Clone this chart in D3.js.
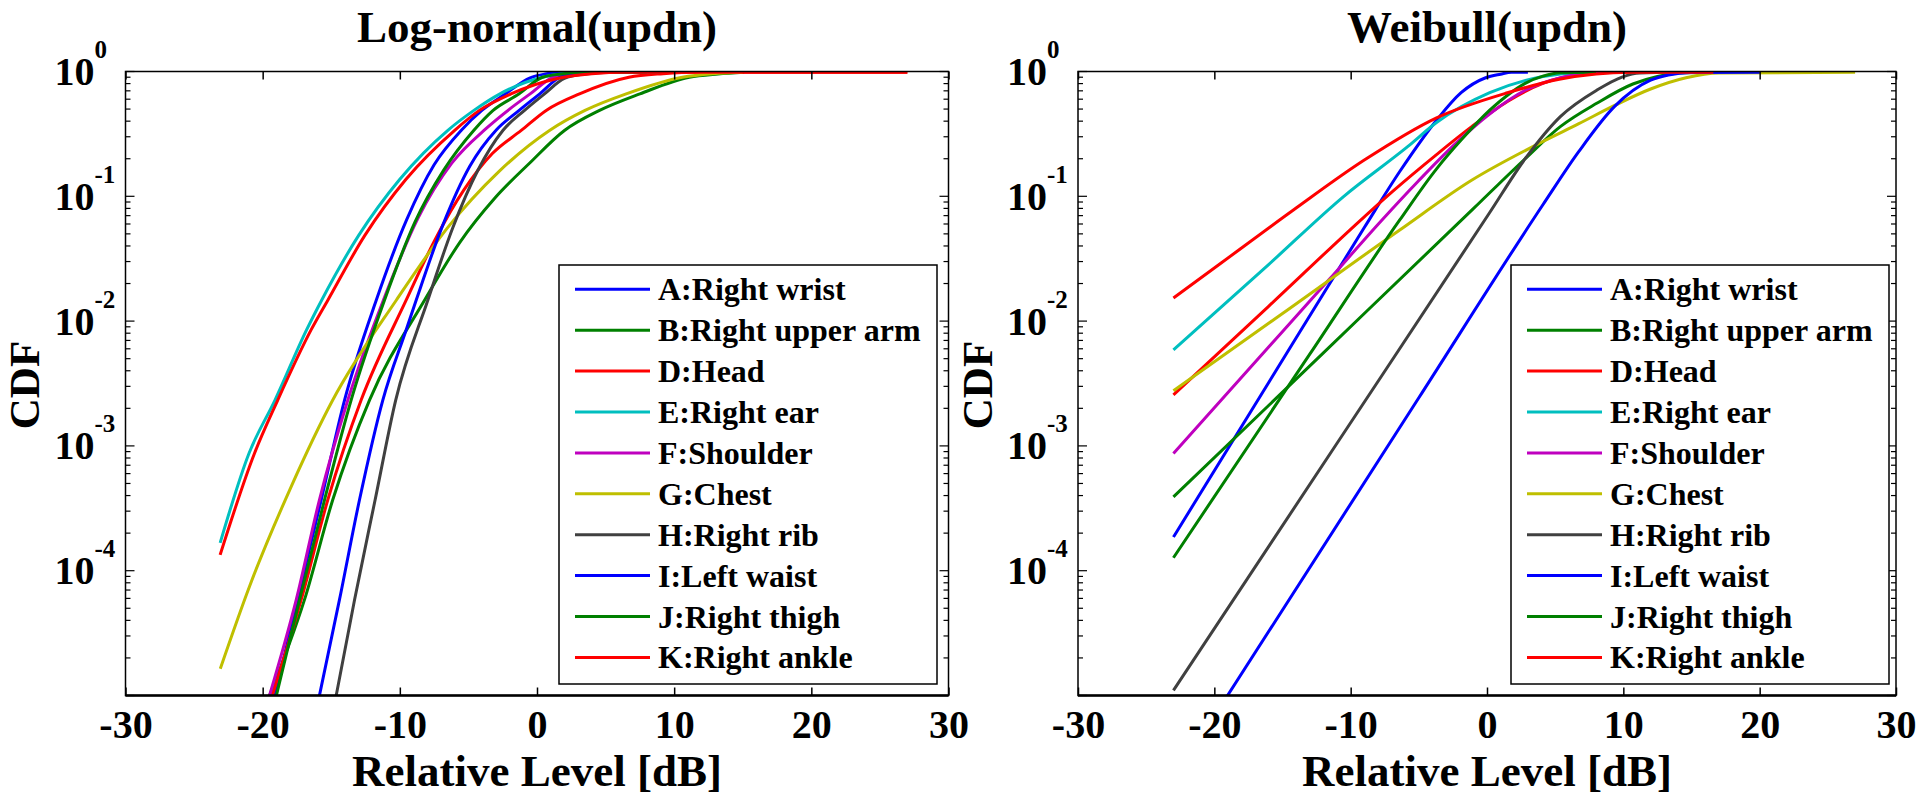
<!DOCTYPE html>
<html>
<head>
<meta charset="utf-8">
<script src="https://cdn.jsdelivr.net/npm/d3@7"></script>
<style>
  body { margin: 0; background: #fff; }
  text { font-family: "Liberation Serif", "Times New Roman", serif; font-weight: bold; fill: #000; }
</style>
</head>
<body>
<svg id="chart" width="1917" height="796"></svg>
<script>
// legend entries (same order and colours in both panels)
const names = ["A:Right wrist", "B:Right upper arm", "D:Head", "E:Right ear", "F:Shoulder",
               "G:Chest", "H:Right rib", "I:Left waist", "J:Right thigh", "K:Right ankle"]
const colors = ["#0000ff", "#008000", "#ff0000", "#00bfbf", "#bf00bf",
                "#bfbf00", "#404040", "#0000ff", "#008000", "#ff0000"]
const xTicks = [-30, -20, -10, 0, 10, 20, 30]
const yLabelExps = [0, -1, -2, -3, -4]

// Log-normal(updn): [relative level dB, CDF]
const lnA = [[-19.1,1e-5],[-17.46,5.86e-5],[-15.73,3.7e-4],[-14.03,2.33e-3],[-11.72,1.47e-2],[-9.5,6.5e-2],[-7.5,0.179],[-5.5,0.34],[-4.0,0.49],[-2.3,0.662],[-0.5,0.89],[0.6,0.955],[1.6,0.985],[4,0.985]]
const lnB = [[-19.5,1e-5],[-16.95,5.86e-5],[-14.89,3.7e-4],[-12.21,2.33e-3],[-8.2,1.47e-2],[-5.65,4.24e-2],[-3.1,9.6e-2],[-0.55,0.184],[2.0,0.337],[4.56,0.488],[7.5,0.662],[11.1,0.90],[13.2,0.955],[15.1,0.985]]
const lnD = [[-19.3,1e-5],[-17.19,5.86e-5],[-15.25,3.7e-4],[-12.82,2.33e-3],[-9.54,1.47e-2],[-7.44,4.48e-2],[-5.34,0.112],[-3.24,0.221],[-1.15,0.337],[0.67,0.488],[3.1,0.662],[6.7,0.90],[9.2,0.96],[11.8,0.985],[27,0.985]]
const lnE = [[-23.1,1.67e-4],[-21.0,8.7e-4],[-19.1,2.33e-3],[-16.8,8.5e-3],[-15.7,1.47e-2],[-13.0,4.86e-2],[-10.0,0.137],[-6.5,0.338],[-4.6,0.488],[-2.7,0.662],[0.4,0.90],[1.9,0.96],[3.3,0.985],[6,0.985]]
const lnF = [[-19.5,1e-5],[-17.55,5.86e-5],[-15.86,3.7e-4],[-13.79,2.33e-3],[-11.2,1.47e-2],[-8.7,6.6e-2],[-6.2,0.185],[-3.7,0.35],[-2.0,0.50],[-0.5,0.662],[1.2,0.90],[2.8,0.96],[4.5,0.985],[8,0.985]]
const lnG = [[-23.09,1.64e-5],[-20.96,7.48e-5],[-17.92,4.72e-4],[-14.89,2.33e-3],[-10.26,1.47e-2],[-6.5,5.64e-2],[-2.8,0.157],[0.91,0.337],[3.5,0.488],[6.5,0.662],[10.6,0.90],[12.8,0.96],[15,0.985]]
const lnH = [[-14.64,1e-5],[-13.3,5.86e-5],[-11.8,3.7e-4],[-10.3,2.33e-3],[-7.96,1.47e-2],[-6.14,5.6e-2],[-4.32,0.161],[-2.49,0.337],[-0.91,0.488],[0.55,0.662],[2.0,0.88],[3.5,0.955],[5.3,0.985],[9,0.985]]
const lnI = [[-15.86,1e-5],[-14.4,5.86e-5],[-12.94,3.7e-4],[-11.24,2.33e-3],[-9.54,8.5e-3],[-8.81,1.47e-2],[-6.86,5.9e-2],[-4.9,0.174],[-2.97,0.34],[-1.3,0.488],[0.2,0.662],[1.7,0.90],[3.0,0.96],[4.5,0.985],[8,0.985]]
const lnJ = [[-19.0,1e-5],[-17.31,5.86e-5],[-15.49,3.7e-4],[-13.55,2.33e-3],[-11.12,1.47e-2],[-8.9,6.2e-2],[-6.8,0.162],[-4.6,0.338],[-3.2,0.488],[-1.3,0.662],[0.4,0.90],[1.9,0.96],[3.3,0.985],[8,0.985]]
const lnK = [[-23.1,1.34e-4],[-20.6,8.7e-4],[-18.9,2.33e-3],[-16.47,8.5e-3],[-15.25,1.47e-2],[-12.55,4.86e-2],[-9.55,0.137],[-6.0,0.338],[-4.2,0.488],[-1.9,0.662],[1.5,0.88],[4,0.96],[6.5,0.985],[27,0.985]]

// Weibull(updn): [relative level dB, CDF]
const wbA = [[-23,1.86e-4],[-16,3.24e-3],[-9,5.62e-2],[-6.4,0.158],[-3.7,0.407],[-1.9,0.676],[-0.1,0.891],[1.0,0.951],[1.8,0.984],[3,0.984]]
const wbB = [[-23,3.9e-4],[-12,5.57e-3],[-1,7.96e-2],[2.8,0.2],[5.4,0.363],[8.05,0.556],[10.7,0.794],[12.5,0.912],[14.5,0.977],[18,0.984]]
const wbD = [[-23,2.56e-3],[-16,1.32e-2],[-9,6.85e-2],[-6.9,0.11],[-3.7,0.216],[-1.1,0.363],[1.5,0.575],[4.1,0.804],[6.7,0.942],[9.8,0.984],[12,0.984]]
const wbE = [[-23,5.87e-3],[-16,2.85e-2],[-10.5,0.1],[-5.8,0.251],[-3.7,0.39],[0.2,0.676],[4.1,0.912],[6.7,0.977],[9,0.984]]
const wbF = [[-23,8.71e-4],[-17,4.7e-3],[-11.6,2.14e-2],[-7.7,6.46e-2],[-5.05,0.132],[-2.43,0.257],[0.19,0.457],[2.8,0.708],[5.4,0.891],[7.6,0.977],[10,0.984]]
const wbG = [[-23,2.77e-3],[-15,1.15e-2],[-6.4,5.37e-2],[-1.1,0.135],[4.1,0.275],[6.7,0.38],[9.4,0.537],[12,0.724],[14.6,0.891],[17,0.973],[27,0.984]]
const wbH = [[-23,1.1e-5],[-11,1.05e-3],[0.2,7.41e-2],[2.8,0.2],[5.4,0.437],[8.05,0.708],[9.9,0.902],[11.2,0.973],[14,0.984]]
const wbI = [[-20,6.84e-6],[-5,2.43e-3],[4.1,8.55e-2],[6.74,0.229],[9.36,0.525],[12,0.851],[13.3,0.938],[14.9,0.982],[20,0.984]]
const wbJ = [[-23,1.27e-4],[-13,5.43e-3],[-6.4,6.46e-2],[-3.7,0.166],[-1.9,0.282],[0.2,0.49],[1.5,0.646],[2.8,0.804],[4.1,0.918],[5.4,0.977],[8,0.984]]
const wbK = [[-23,1.53e-2],[-19.5,2.92e-2],[-14.2,7.76e-2],[-9.0,0.195],[-3.7,0.425],[1.5,0.675],[5.4,0.871],[8.0,0.955],[10.5,0.984],[16.6,0.984]]

const TOP = 71.5, BOTTOM = 695.5
const panels = [
    {id: "ln", title: "Log-normal(updn)", left: 125.5, right: 948.5, yLabelX: 39,
     curves: [lnA, lnB, lnD, lnE, lnF, lnG, lnH, lnI, lnJ, lnK], legendX: 559},
    {id: "wb", title: "Weibull(updn)", left: 1078, right: 1896, yLabelX: 992,
     curves: [wbA, wbB, wbD, wbE, wbF, wbG, wbH, wbI, wbJ, wbK], legendX: 1511}
]

const svg = d3.select("#chart")

panels.forEach(p => {
    const x = d3.scaleLinear().domain([-30, 30]).range([p.left, p.right])
    const y = d3.scaleLog().domain([1e-5, 1]).range([BOTTOM, TOP])
    const g = svg.append("g")

    g.append("clipPath").attr("id", `clip-${p.id}`)
        .append("rect").attr("x", p.left).attr("y", TOP).attr("width", p.right - p.left).attr("height", BOTTOM - TOP)

    // curves
    const line = d3.line().x(d => x(d[0])).y(d => y(d[1])).curve(d3.curveMonotoneX)
    g.append("g").attr("clip-path", `url(#clip-${p.id})`)
        .selectAll("path").data(p.curves).enter()
        .append("path")
        .attr("d", line)
        .attr("fill", "none")
        .attr("stroke", (d, i) => colors[i])
        .attr("stroke-width", 3)
        .attr("stroke-linejoin", "round")

    // x axis ticks inside, bottom and top
    const xb = g.append("g").attr("transform", `translate(0,${BOTTOM})`)
        .call(d3.axisBottom(x).tickValues(xTicks).tickSize(-8).tickPadding(14).tickFormat(d => String(d)))
    xb.select(".domain").remove()
    xb.selectAll("line").attr("stroke", "#000").attr("stroke-width", 1.5)
    xb.selectAll("text").attr("font-size", 40).attr("font-family", null)
    const xt = g.append("g").attr("transform", `translate(0,${TOP})`)
        .call(d3.axisTop(x).tickValues(xTicks).tickSize(-8).tickFormat(""))
    xt.select(".domain").remove()
    xt.selectAll("line").attr("stroke", "#000").attr("stroke-width", 1.5)

    // log y ticks inside, left and right
    const yt = y.ticks()
    const isMajor = v => Math.abs(Math.log10(v) - Math.round(Math.log10(v))) < 1e-9
    ;[[p.left, 1], [p.right, -1]].forEach(([x0, dir]) => {
        g.append("g").selectAll("line").data(yt).enter().append("line")
            .attr("x1", x0).attr("x2", d => x0 + dir * (isMajor(d) ? 9 : 5))
            .attr("y1", d => y(d)).attr("y2", d => y(d))
            .attr("stroke", "#000").attr("stroke-width", 1.2)
    })

    // y tick labels 10^k
    const lab = g.append("g").selectAll("text").data(yLabelExps).enter().append("text")
        .attr("x", p.left - 71).attr("y", d => y(Math.pow(10, d)) + 13.5)
        .attr("font-size", 40)
    lab.append("tspan").text("10")
    lab.append("tspan").attr("dy", -27).attr("font-size", 25).text(d => String(d))

    // box
    g.append("rect").attr("x", p.left).attr("y", TOP).attr("width", p.right - p.left).attr("height", BOTTOM - TOP)
        .attr("fill", "none").attr("stroke", "#000").attr("stroke-width", 1.5)
    g.append("line").attr("x1", p.left).attr("x2", p.right).attr("y1", BOTTOM).attr("y2", BOTTOM)
        .attr("stroke", "#000").attr("stroke-width", 2.5)

    // titles
    const cx = (p.left + p.right) / 2
    g.append("text").attr("x", cx).attr("y", 42).attr("text-anchor", "middle").attr("font-size", 45).text(p.title)
    g.append("text").attr("x", cx).attr("y", 786).attr("text-anchor", "middle").attr("font-size", 45).text("Relative Level [dB]")
    g.append("text").attr("transform", `translate(${p.yLabelX},385) rotate(-90)`)
        .attr("text-anchor", "middle").attr("font-size", 43).text("CDF")

    // legend
    const lg = g.append("g").attr("transform", `translate(${p.legendX},265)`)
    lg.append("rect").attr("width", 378).attr("height", 419)
        .attr("fill", "#fff").attr("stroke", "#000").attr("stroke-width", 1.5)
    const rows = lg.selectAll("g.row").data(names).enter().append("g")
        .attr("class", "row")
        .attr("transform", (d, i) => `translate(0,${24.3 + i * 40.9})`)
    rows.append("line").attr("x1", 16).attr("x2", 91).attr("y1", 0).attr("y2", 0)
        .attr("stroke", (d, i) => colors[i]).attr("stroke-width", 3)
    rows.append("text").attr("x", 99).attr("y", 11).attr("font-size", 32).text(d => d)
})
</script>
</body>
</html>
